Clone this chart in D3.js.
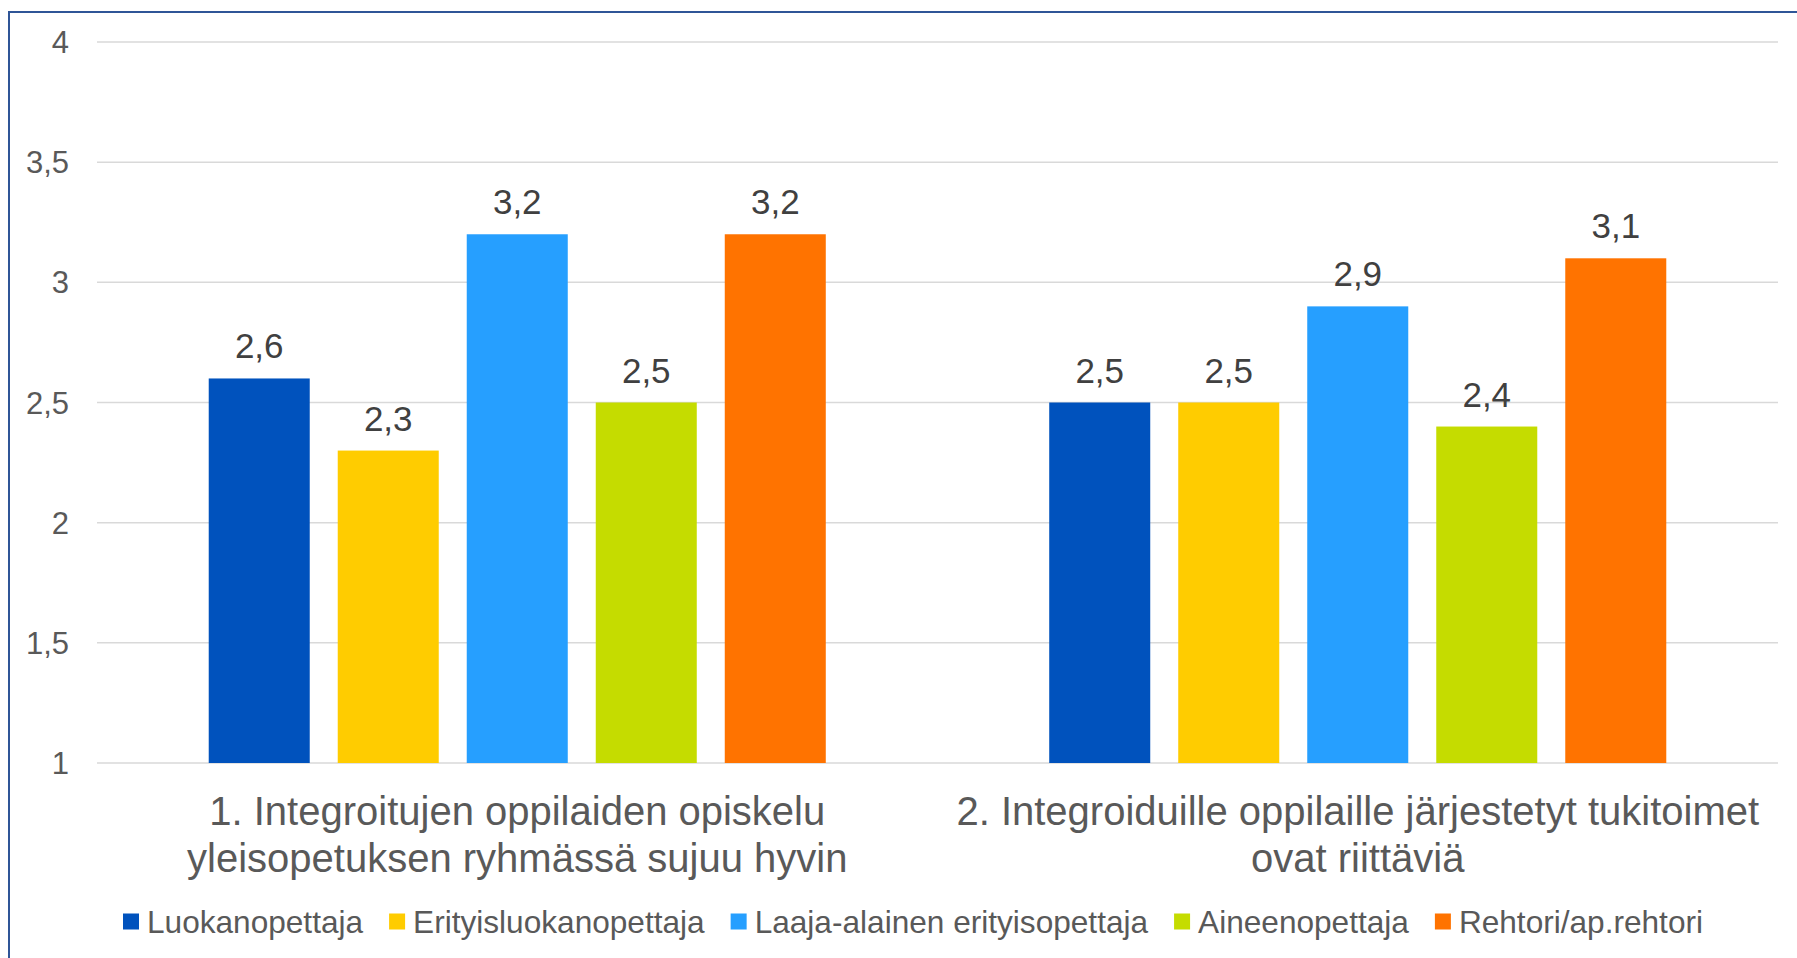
<!DOCTYPE html>
<html>
<head>
<meta charset="utf-8">
<script src="https://d3js.org/d3.v7.min.js"></script>
<style>
  body { margin: 0; background: #fff; }
  svg { font-family: "Liberation Sans", Arial, sans-serif; }
</style>
</head>
<body>
<div id="chart"></div>
<script>
const categories = [
    ["1. Integroitujen oppilaiden opiskelu", "yleisopetuksen ryhmässä sujuu hyvin"],
    ["2. Integroiduille oppilaille järjestetyt tukitoimet", "ovat riittäviä"]
];
const series = ["Luokanopettaja", "Erityisluokanopettaja", "Laaja-alainen erityisopettaja", "Aineenopettaja", "Rehtori/ap.rehtori"];
const valuesCat1 = [2.6, 2.3, 3.2, 2.5, 3.2];
const valuesCat2 = [2.5, 2.5, 2.9, 2.4, 3.1];
const colors = ["#0052bd", "#ffcc00", "#269fff", "#c5dc00", "#ff7300"];
const yTicks = [1, 1.5, 2, 2.5, 3, 3.5, 4];

const width = 1797, height = 958;
const plot = { left: 97, right: 1778, top: 42, bottom: 763 };

const svg = d3.select("#chart")
    .append("svg")
    .attr("width", width)
    .attr("height", height);

// frame around the chart
svg.append("rect")
    .attr("x", 9).attr("y", 12)
    .attr("width", width + 20).attr("height", height + 20)
    .attr("fill", "none")
    .attr("stroke", "#2f5597")
    .attr("stroke-width", 2);

const y = d3.scaleLinear().domain([1, 4]).range([plot.bottom, plot.top]);

const x0 = d3.scaleBand()
    .domain(d3.range(categories.length))
    .range([plot.left, plot.right]);

const x1 = d3.scaleBand()
    .domain(d3.range(series.length))
    .range([0, x0.bandwidth()])
    .paddingInner(0.217)
    .paddingOuter(0.866);

const fmt = v => String(v).replace(".", ",");

// gridlines
svg.append("g").selectAll("line")
    .data(yTicks)
    .enter()
    .append("line")
    .attr("x1", plot.left).attr("x2", plot.right)
    .attr("y1", d => y(d)).attr("y2", d => y(d))
    .attr("stroke", "#d9d9d9")
    .attr("stroke-width", 1.5);

// y tick labels
svg.append("g").selectAll("text")
    .data(yTicks)
    .enter()
    .append("text")
    .attr("x", 69)
    .attr("y", d => y(d))
    .attr("dy", "0.36em")
    .style("text-anchor", "end")
    .style("font-size", "31px")
    .attr("fill", "#595959")
    .text(fmt);

const rows = [];
[valuesCat1, valuesCat2].forEach((vals, c) => {
    vals.forEach((v, s) => rows.push({ c: c, s: s, v: v }));
});

svg.append("g").selectAll("rect")
    .data(rows)
    .enter()
    .append("rect")
    .attr("x", d => x0(d.c) + x1(d.s))
    .attr("y", d => y(d.v))
    .attr("width", x1.bandwidth())
    .attr("height", d => y(1) - y(d.v))
    .attr("fill", d => colors[d.s]);

// value labels
svg.append("g").selectAll("text")
    .data(rows)
    .enter()
    .append("text")
    .attr("x", d => x0(d.c) + x1(d.s) + x1.bandwidth() / 2)
    .attr("y", d => y(d.v) - 20)
    .style("text-anchor", "middle")
    .style("font-size", "35px")
    .attr("fill", "#404040")
    .text(d => fmt(d.v));

// category labels
const catG = svg.append("g");
categories.forEach((lines, c) => {
    const t = catG.append("text")
        .attr("x", x0(c) + x0.bandwidth() / 2)
        .attr("y", 825)
        .style("text-anchor", "middle")
        .style("font-size", "40px")
        .attr("fill", "#595959");
    lines.forEach((ln, i) => {
        t.append("tspan")
            .attr("x", x0(c) + x0.bandwidth() / 2)
            .attr("dy", i === 0 ? 0 : 46.5)
            .text(ln);
    });
});

// legend
const legend = svg.append("g");
let lx = 0;
series.forEach((name, i) => {
    const item = legend.append("g").attr("transform", `translate(${lx},0)`);
    item.append("rect")
        .attr("x", 0).attr("y", -8)
        .attr("width", 16).attr("height", 16)
        .attr("fill", colors[i]);
    const txt = item.append("text")
        .attr("x", 24)
        .attr("y", 0)
        .attr("dy", "0.36em")
        .style("font-size", "31.6px")
        .attr("fill", "#595959")
        .text(name);
    lx += 24 + txt.node().getComputedTextLength() + 26;
});
const legendW = lx - 26;
legend.attr("transform", `translate(${913 - legendW / 2},921.5)`);
</script>
</body>
</html>
